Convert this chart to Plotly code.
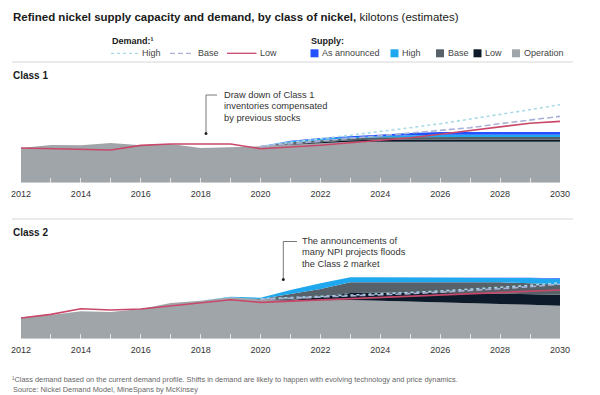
import plotly.graph_objects as go

# ---------------- data (kilotons, estimates) ----------------
years = [2012, 2013, 2014, 2015, 2016, 2017, 2018, 2019, 2020, 2021,
         2022, 2023, 2024, 2025, 2026, 2027, 2028, 2029, 2030]

# Class 1 supply layers (stacked thickness)
c1_operation = [1040, 1130, 1120, 1190, 1120, 1160, 1040, 1060, 1090, 1140,
                1190, 1230, 1230, 1230, 1230, 1230, 1230, 1230, 1230]
c1_low = [0, 0, 0, 0, 0, 0, 0, 0, 0, 10, 20, 40, 55, 60, 60, 60, 60, 60, 60]
c1_base = [0, 0, 0, 0, 0, 0, 0, 0, 0, 60, 70, 60, 75, 80, 80, 80, 80, 80, 80]
c1_high = [0, 0, 0, 0, 0, 0, 0, 0, 0, 30, 35, 35, 45, 55, 70, 70, 70, 70, 70]
c1_announced = [0, 0, 0, 0, 0, 0, 0, 0, 0, 20, 25, 25, 45, 65, 80, 80, 80, 80, 80]
# Class 1 demand
c1_dem_low = [1040, 1020, 1000, 980, 1120, 1160, 1160, 1160, 1020, 1065,
              1125, 1200, 1275, 1350, 1455, 1560, 1680, 1785, 1840]
c1_dem_base = [None, None, None, None, None, None, None, None, 1090, 1170,
               1240, 1320, 1410, 1485, 1560, 1650, 1770, 1890, 1990]
c1_dem_high = [None, None, None, None, None, None, None, None, 1090, 1215,
               1320, 1425, 1530, 1650, 1770, 1905, 2040, 2190, 2340]

# Class 2 supply layers (stacked thickness)
c2_operation = [640, 710, 820, 800, 890, 1070, 1140, 1240, 1170, 1140,
                1155, 1160, 1140, 1110, 1090, 1065, 1040, 1020, 990]
c2_low = [0, 0, 0, 0, 0, 0, 0, 0, 0, 20, 85, 210, 240, 270, 290, 300, 310, 315, 330]
c2_base = [0, 0, 0, 0, 0, 0, 0, 0, 20, 180, 250, 320, 310, 310, 310, 325, 340, 330, 300]
c2_high = [0, 0, 0, 0, 0, 0, 0, 20, 40, 120, 170, 150, 150, 150, 150, 150, 150, 155, 170]
c2_announced = [0, 0, 0, 0, 0, 0, 0, 0, 0, 0, 0, 0, 0, 0, 0, 0, 0, 10, 25]
# Class 2 demand
c2_dem_low = [620, 730, 900, 860, 890, 990, 1080, 1170, 1090, 1125,
              1165, 1200, 1240, 1275, 1310, 1350, 1385, 1425, 1460]
c2_dem_base = [None, None, None, None, None, None, None, None, 1185, 1215,
               1245, 1275, 1305, 1350, 1395, 1440, 1500, 1560, 1635]
c2_dem_high = [None, None, None, None, None, None, None, None, 1195, 1230,
               1265, 1300, 1340, 1385, 1430, 1480, 1540, 1600, 1680]

# ---------------- styling ----------------
FONT = "Liberation Sans, Arial, sans-serif"
COL_OPER = "#a0a5aa"
COL_LOW = "#0c1a2a"
COL_BASE = "#56616a"
COL_HIGH = "#1fa8ee"
COL_ANN = "#2251ff"
COL_D_HIGH = "#a6dbe6"
COL_D_BASE = "#a9b2d6"
COL_D_LOW = "#c8486a"
DASH_BASE = "6px,3px"

W, H = 600, 395


def px(x):
    return x / W


def py(y):
    return 1 - y / H


fig = go.Figure()


def add_panel(suffix, sg, layers, dem_high, dem_base, dem_low):
    xa = "x" + suffix
    ya = "y" + suffix
    for name, vals, color in layers:
        fig.add_trace(go.Scatter(
            x=years, y=vals, name=name, stackgroup=sg, mode="lines",
            line=dict(width=0, color=color), fillcolor=color,
            xaxis=xa, yaxis=ya, showlegend=False, hoverinfo="skip"))
    for name, vals, color, dash in [("High", dem_high, COL_D_HIGH, "dot"),
                                    ("Base", dem_base, COL_D_BASE, DASH_BASE),
                                    ("Low", dem_low, COL_D_LOW, "solid")]:
        fig.add_trace(go.Scatter(
            x=years, y=vals, name=name, mode="lines",
            line=dict(width=1.6, color=color, dash=dash),
            xaxis=xa, yaxis=ya, showlegend=False, hoverinfo="skip"))


add_panel("", "c1",
          [("Operation", c1_operation, COL_OPER), ("Low", c1_low, COL_LOW),
           ("Base", c1_base, COL_BASE), ("High", c1_high, COL_HIGH),
           ("As announced", c1_announced, COL_ANN)],
          c1_dem_high, c1_dem_base, c1_dem_low)
add_panel("2", "c2",
          [("Operation", c2_operation, COL_OPER), ("Low", c2_low, COL_LOW),
           ("Base", c2_base, COL_BASE), ("High", c2_high, COL_HIGH),
           ("As announced", c2_announced, COL_ANN)],
          c2_dem_high, c2_dem_base, c2_dem_low)

xdom = [px(21), px(560)]
xaxis_common = dict(
    domain=xdom, range=[2012, 2030], tickmode="linear", tick0=2012, dtick=2,
    ticks="inside", ticklen=5, tickwidth=1, tickcolor="rgba(255,255,255,0.7)",
    minor=dict(dtick=1, tick0=2012, ticks="inside", ticklen=5, tickwidth=1,
               tickcolor="rgba(255,255,255,0.7)"),
    showgrid=False, zeroline=False, showline=False, fixedrange=True,
    automargin=False,
    tickfont=dict(family=FONT, size=9, color="#333333"), ticklabelstandoff=4,
)
YMAX = 2790
fig.update_layout(
    width=W, height=H,
    margin=dict(l=0, r=0, t=0, b=0, pad=0, autoexpand=False),
    paper_bgcolor="white", plot_bgcolor="rgba(0,0,0,0)",
    showlegend=False,
    xaxis=dict(anchor="y", **xaxis_common),
    xaxis2=dict(anchor="y2", **xaxis_common),
    yaxis=dict(domain=[py(182.7), py(89.7)], range=[0, YMAX], visible=False,
               fixedrange=True, automargin=False),
    yaxis2=dict(domain=[py(338.7), py(245.7)], range=[0, YMAX], visible=False,
                fixedrange=True, automargin=False),
)

annotations = []
shapes = []


def text(x, y, s, size=9, color="#333333", bold=False, anchor="left"):
    if bold:
        s = "<b>" + s + "</b>"
    annotations.append(dict(
        x=px(x), y=py(y), xref="paper", yref="paper", text=s, showarrow=False,
        xanchor=anchor, yanchor="middle", borderpad=0,
        font=dict(family=FONT, size=size, color=color)))


def line(x0, y0, x1, y1, color, width=1, dash="solid"):
    shapes.append(dict(type="line", xref="paper", yref="paper",
                       x0=px(x0), y0=py(y0), x1=px(x1), y1=py(y1),
                       line=dict(color=color, width=width, dash=dash)))


def rect(x0, y0, x1, y1, color):
    shapes.append(dict(type="rect", xref="paper", yref="paper",
                       x0=px(x0), y0=py(y0), x1=px(x1), y1=py(y1),
                       line=dict(width=0), fillcolor=color))


def dot(x, y, r=1.5, color="#222222"):
    shapes.append(dict(type="circle", xref="paper", yref="paper",
                       x0=px(x - r), y0=py(y + r), x1=px(x + r), y1=py(y - r),
                       line=dict(width=0), fillcolor=color))


# title
text(12, 17, "<b>Refined nickel supply capacity and demand, by class of nickel,</b> "
     "kilotons (estimates)", size=11.5, color="#1a1a1a")

# legend: demand
text(110.5, 40.5, "Demand:¹", size=9, color="#1a1a1a", bold=True)
line(111, 53.3, 139, 53.3, COL_D_HIGH, 1.3, "dot")
text(141, 53.3, "High", size=9, color="#444444")
line(170, 53.3, 194, 53.3, COL_D_BASE, 1.3, "5px,3px")
text(196.5, 53.3, "Base", size=9, color="#444444")
line(227, 53.3, 256.5, 53.3, COL_D_LOW, 1.3)
text(258.5, 53.3, "Low", size=9, color="#444444")

# legend: supply
text(310, 40.5, "Supply:", size=9, color="#1a1a1a", bold=True)
for x0, color, label in [(310.5, COL_ANN, "As announced"), (390.5, COL_HIGH, "High"),
                         (436, COL_BASE, "Base"), (473.5, COL_LOW, "Low"),
                         (512, COL_OPER, "Operation")]:
    rect(x0, 49.3, x0 + 8, 57.3, color)
    text(x0 + 10.5, 53.3, label, size=9, color="#444444")

# separators
line(12, 62, 573, 62, "#d6d6d6", 1)
line(12, 219, 573, 219, "#d6d6d6", 1)

# panel titles
text(12, 75, "Class 1", size=10, color="#1a1a1a", bold=True)
text(12, 232, "Class 2", size=10, color="#1a1a1a", bold=True)

# callout class 1
line(206, 95, 217, 95, "#555555", 0.8)
line(206, 95, 206, 133.5, "#555555", 0.8)
dot(206, 133.5)
for i, s in enumerate(["Draw down of Class 1", "inventories compensated", "by previous stocks"]):
    text(222.5, 95 + 11.3 * i, s, size=9.3, color="#333333")

# callout class 2
line(283.3, 241.5, 297, 241.5, "#555555", 0.8)
line(283.3, 241.5, 283.3, 279.5, "#555555", 0.8)
dot(283.3, 279.5)
for i, s in enumerate(["The announcements of", "many NPI projects floods", "the Class 2 market"]):
    text(301.5, 241 + 11.3 * i, s, size=9.3, color="#333333")

# footnotes
text(11, 379, "¹Class demand based on the current demand profile. Shifts in demand are "
     "likely to happen with evolving technology and price dynamics.", size=7.4, color="#666666")
text(12, 389.5, "Source: Nickel Demand Model, MineSpans by McKinsey", size=7.4, color="#666666")

fig.update_layout(annotations=annotations, shapes=shapes)
fig.write_html("out.html",
               config={"displayModeBar": False, "staticPlot": True},
               post_script="document.body.style.margin='0px';"
                           "document.body.style.overflow='hidden';")
